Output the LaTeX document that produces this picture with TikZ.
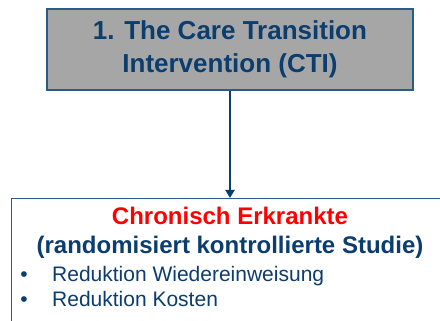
\documentclass[tikz,border=0pt]{standalone}
\usepackage{fontspec}
\setmainfont{Liberation Sans}
\usetikzlibrary{arrows.meta}
\definecolor{ctiblue}{HTML}{0B3D6E}
\definecolor{ctiline}{HTML}{2A5B8A}
\definecolor{ctigray}{HTML}{A6A6A6}
\definecolor{ctired}{HTML}{FF0000}
\tikzset{
  box/.style={draw=ctiline, line width=1.3pt, rectangle, inner sep=0pt},
  head/.style={font=\fontsize{24}{28}\selectfont\bfseries, anchor=base},
  item/.style={font=\fontsize{21}{25}\selectfont, text=ctiblue, anchor=base west, inner sep=0pt},
  link/.style={draw=ctiblue, line width=2pt, -{Triangle[length=8pt,width=9pt]}}
}
\begin{document}
\begin{tikzpicture}[x=1pt,y=-1pt]
      \useasboundingbox (0,0) rectangle (440,321);
      \clip (0,0) rectangle (440,321);
      \node[box, fill=ctigray, minimum width=366pt, minimum height=81pt,
        font=\fontsize{26}{33}\selectfont\bfseries, text=ctiblue, align=center]
        (cti) at (230,49.5) {1. The Care Transition\\Intervention (CTI)};
      \node[box, fill=white, minimum width=470pt, minimum height=160pt,
        anchor=north west] (study) at (11,198) {};
      \node[head, text=ctired] (group) at (230,225) {Chronisch Erkrankte};
      \node[head, text=ctiblue] (design) at (230,254) {(randomisiert kontrollierte Studie)};
      \node[item] (item1) at (52,281) {Reduktion Wiedereinweisung};
      \node[item] (item2) at (52,306) {Reduktion Kosten};
      \node[item, anchor=base] (dot1) at (24,281) {•};
      \node[item, anchor=base] (dot2) at (24,306) {•};
      \begin{scope}
        \draw[link] (cti.south) -- (cti.south |- study.north);
      \end{scope}
\end{tikzpicture}
\end{document}
